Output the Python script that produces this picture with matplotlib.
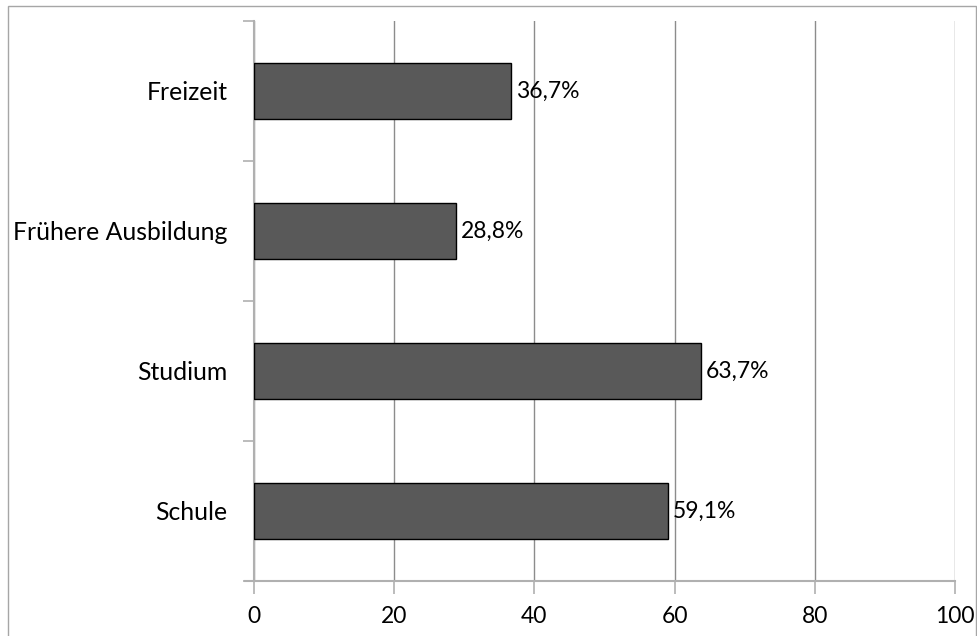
import matplotlib
matplotlib.use("Agg")
import matplotlib.pyplot as plt
from matplotlib.patches import Rectangle

# Anteile je Lernort (Prozent)
kategorien = ["Schule", "Studium", "Frühere Ausbildung", "Freizeit"]
werte = [59.1, 63.7, 28.8, 36.7]
beschriftungen = ["59,1%", "63,7%", "28,8%", "36,7%"]
x_ticks = [0, 20, 40, 60, 80, 100]

plt.rcParams["font.family"] = ["Lato", "DejaVu Sans"]

fig = plt.figure(figsize=(9.78, 6.36), dpi=100)
ax = fig.add_axes([254 / 978, 1 - 581 / 636, 701 / 978, 560 / 636])

pos = list(range(len(kategorien)))
ax.barh(pos, werte, height=0.4, color="#595959", edgecolor="black", linewidth=1, zorder=3)

for p, w, t in zip(pos, werte, beschriftungen):
    ax.text(w + 0.7, p, t, va="center", ha="left", fontsize=16.5, color="black")

ax.set_xlim(0, 100)
ax.set_ylim(-0.5, len(kategorien) - 0.5)
ax.set_xticks(x_ticks)
ax.set_xticklabels([str(v) for v in x_ticks], fontsize=16.5)
ax.xaxis.grid(True, color="#8c8c8c", linewidth=1, zorder=0)

# Kategorien ohne Ticks, Trennstriche an den Grenzen
ax.set_yticks(pos)
ax.set_yticklabels(kategorien, fontsize=17.8)
ax.tick_params(axis="y", length=0, pad=19)
ax.set_yticks([p - 0.5 for p in range(len(kategorien) + 1)], minor=True)
ax.tick_params(axis="y", which="minor", length=8, color="#b0b0b0", width=1.2)
ax.tick_params(axis="x", length=9, color="#b0b0b0", width=1.2, pad=9)

for s in ["top", "right"]:
    ax.spines[s].set_visible(False)
ax.spines["left"].set_color("#b0b0b0")
ax.spines["left"].set_linewidth(1.5)
ax.spines["bottom"].set_color("#b0b0b0")
ax.spines["bottom"].set_linewidth(1.5)
ax.spines["bottom"].set_bounds(-1.3, 100)

# Rahmen um das Diagramm
fig.patches.append(Rectangle((8 / 978, -0.01), 968 / 978, 1 - 6 / 636 + 0.01,
                             transform=fig.transFigure, fill=False,
                             edgecolor="#a6a6a6", linewidth=1))

fig.savefig("out.png", dpi=100)
